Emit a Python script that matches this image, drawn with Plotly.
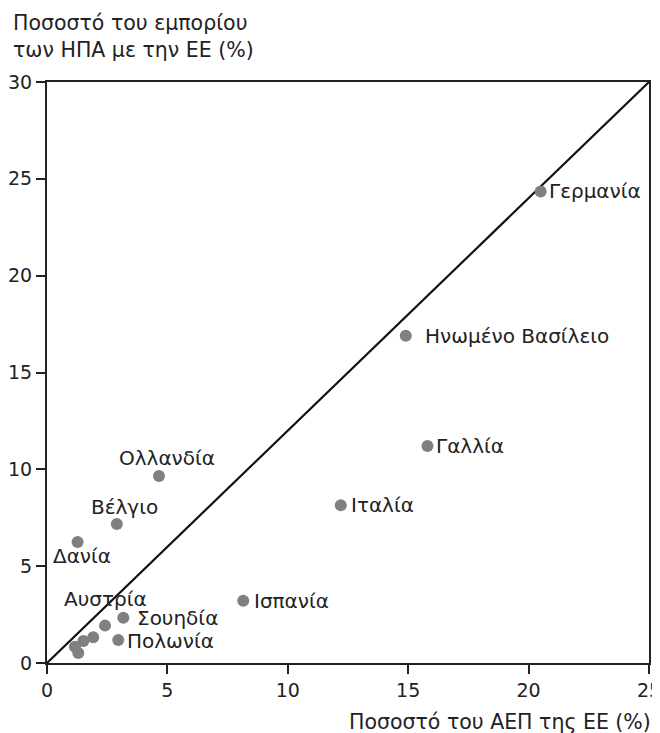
import plotly.graph_objects as go

countries = ["Γερμανία", "Ηνωμένο Βασίλειο", "Γαλλία", "Ιταλία", "Ισπανία",
             "Ολλανδία", "Βέλγιο", "Δανία", "Αυστρία", "Σουηδία", "Πολωνία",
             "", "", "", ""]
gdp_share = [20.5, 14.9, 15.8, 12.2, 8.15, 4.65, 2.9, 1.27, 2.41, 3.17, 2.96,
             1.92, 1.51, 1.16, 1.30]
trade_share = [24.35, 16.9, 11.2, 8.15, 3.22, 9.65, 7.18, 6.25, 1.93, 2.34, 1.19,
               1.33, 1.14, 0.84, 0.52]

# label placement (style): anchor and pixel shifts relative to the point
label_anchor = ["left", "left", "left", "left", "left", "center", "center", "center",
                "center", "left", "left", "left", "left", "left", "left"]
label_dx = [6, 17, 7, 8, 9, 8, 8, 4, 0, 12, 7, 0, 0, 0, 0]
label_dy = [0, 0, 0, 0, 0, 18, 17, -14, 27, 0, -1, 0, 0, 0, 0]

x_ticks = [0, 5, 10, 15, 20, 25]
y_ticks = [0, 5, 10, 15, 20, 25, 30]
diag_x = [0, 25]
diag_y = [0, 30]

font = "DejaVu Sans, Liberation Sans, sans-serif"
tcol = "#222222"

fig = go.Figure()
fig.add_trace(go.Scatter(x=diag_x, y=diag_y, mode="lines",
                         line=dict(color="#111111", width=2.2),
                         hoverinfo="skip", showlegend=False))
fig.add_trace(go.Scatter(
    x=gdp_share, y=trade_share, mode="markers",
    marker=dict(color="#808080", size=12),
    showlegend=False))

annotations = []
for name, xv, yv, anc, dx, dy in zip(countries, gdp_share, trade_share,
                                      label_anchor, label_dx, label_dy):
    if not name:
        continue
    annotations.append(dict(text=name, x=xv, y=yv, xref="x", yref="y",
                            xanchor=anc, yanchor="middle", xshift=dx, yshift=dy,
                            showarrow=False,
                            font=dict(family=font, size=20, color=tcol)))

annotations += [
    dict(text="Ποσοστό του εμπορίου<br>των ΗΠΑ με την ΕΕ (%)", xref="paper", yref="paper",
         x=-0.06, y=1.125, xanchor="left", yanchor="top", align="left", showarrow=False,
         font=dict(family=font, size=20.5, color=tcol)),
    dict(text="Ποσοστό του ΑΕΠ της ΕΕ (%)", xref="paper", yref="paper",
         x=1.006, y=-0.077, xanchor="right", yanchor="top", showarrow=False,
         font=dict(family=font, size=20.5, color=tcol)),
]

fig.update_layout(
    width=652, height=725,
    margin=dict(l=39, r=11, t=74, b=70),
    paper_bgcolor="white", plot_bgcolor="white",
    font=dict(family=font, size=19, color=tcol),
    xaxis=dict(range=[0, 25], tickvals=x_ticks, showgrid=False, zeroline=False,
               showline=True, linecolor="#222222", linewidth=2, mirror=True,
               ticks="outside", ticklen=9, tickwidth=1.5, tickcolor="#222222",
               automargin=False, ticklabeloverflow="allow"),
    yaxis=dict(range=[0, 30], tickvals=y_ticks, showgrid=False, zeroline=False,
               showline=True, linecolor="#222222", linewidth=2, mirror=True,
               ticks="outside", ticklen=9, tickwidth=1.5, tickcolor="#222222",
               automargin=False, ticklabeloverflow="allow"),
    annotations=annotations,
)
fig.write_html("out.html")
